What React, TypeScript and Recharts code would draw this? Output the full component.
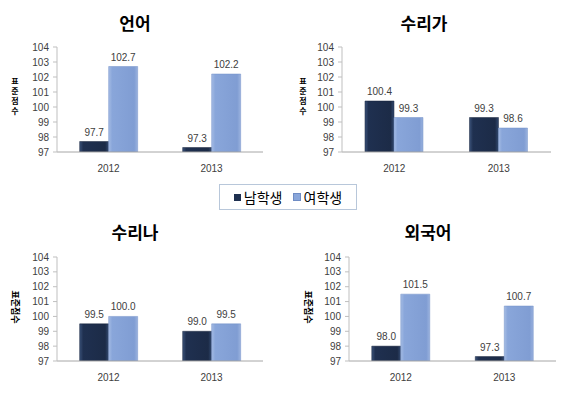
import { Bar, BarChart, LabelList, XAxis, YAxis } from 'recharts'

const years = ['2012', '2013']
const yTicks = [97, 98, 99, 100, 101, 102, 103, 104]

const languageMale = [97.7, 97.3]
const languageFemale = [102.7, 102.2]
const mathAMale = [100.4, 99.3]
const mathAFemale = [99.3, 98.6]
const mathBMale = [99.5, 99.0]
const mathBFemale = [100.0, 99.5]
const foreignMale = [98.0, 97.3]
const foreignFemale = [101.5, 100.7]

const yLabel = '표준점수'

const korean = '"Noto Sans CJK KR", "Noto Sans", sans-serif'
const latin = '"Liberation Sans", Arial, sans-serif'

type PanelProps = {
	id: string
	title: string
	male: number[]
	female: number[]
	left: number
	top: number
	width: number
	height: number
	margin: { top: number; right: number; bottom: number; left: number }
	yWidth: number
	titleX: number
	titleY: number
	labelX: number
	labelY: number
	upright: boolean
}

const Panel = ({
	id,
	title,
	male,
	female,
	left,
	top,
	width,
	height,
	margin,
	yWidth,
	titleX,
	titleY,
	labelX,
	labelY,
	upright,
}: PanelProps) => {
	const data = years.map((year, i) => ({ year, male: male[i], female: female[i] }))

	return (
		<div style={{ position: 'absolute', left, top, width, height }}>
			<div
				style={{
					position: 'absolute',
					left: titleX - 60,
					top: titleY - 12,
					width: 120,
					textAlign: 'center',
					fontFamily: korean,
					fontWeight: 'bold',
					fontSize: 17,
					lineHeight: '24px',
					color: '#000',
				}}
			>
				{title}
			</div>
			{upright ? (
				<div
					style={{
						position: 'absolute',
						left: labelX - 6,
						top: labelY - 20,
						width: 12,
						textAlign: 'center',
						fontFamily: korean,
						fontWeight: 'bold',
						fontSize: 8,
						lineHeight: '10px',
						color: '#000',
					}}
				>
					{yLabel.split('').map(ch => (
						<div key={ch} style={{ height: 10 }}>
							{ch}
						</div>
					))}
				</div>
			) : (
				<div
					style={{
						position: 'absolute',
						left: labelX - 20,
						top: labelY - 5,
						width: 40,
						textAlign: 'center',
						transform: 'rotate(90deg)',
						fontFamily: korean,
						fontWeight: 'bold',
						fontSize: 9,
						lineHeight: '10px',
						color: '#000',
					}}
				>
					{yLabel}
				</div>
			)}
			<BarChart
				width={width}
				height={height}
				data={data}
				margin={margin}
				barCategoryGap='22%'
				barGap={0}
				style={{ position: 'absolute', left: 0, top: 0 }}
			>
				<defs>
					<linearGradient id={`${id}-male`} x1='0' y1='0' x2='1' y2='0'>
						<stop offset='0%' stopColor='#3B5279' />
						<stop offset='12%' stopColor='#1F3050' />
						<stop offset='88%' stopColor='#1C2B47' />
						<stop offset='100%' stopColor='#334A70' />
					</linearGradient>
					<linearGradient id={`${id}-female`} x1='0' y1='0' x2='1' y2='0'>
						<stop offset='0%' stopColor='#A5BCE4' />
						<stop offset='12%' stopColor='#89A6DA' />
						<stop offset='88%' stopColor='#809DD3' />
						<stop offset='100%' stopColor='#9AB2DE' />
					</linearGradient>
				</defs>
				<XAxis
					dataKey='year'
					axisLine={{ stroke: '#A6A6A6' }}
					tickLine={false}
					tickSize={6}
					tickMargin={7}
					height={30}
					tick={{ fontSize: 10, fill: '#404040', fontFamily: latin }}
				/>
				<YAxis
					domain={[97, 104]}
					ticks={yTicks}
					allowDataOverflow
					width={yWidth}
					axisLine={{ stroke: '#BFBFBF' }}
					tickLine={{ stroke: '#BFBFBF' }}
					tickSize={4}
					tickMargin={4}
					interval={0}
					tick={{ fontSize: 10, fill: '#404040', fontFamily: latin }}
				/>
				<Bar dataKey='male' fill={`url(#${id}-male)`} stroke='#16223A' strokeWidth={0.5} isAnimationActive={false}>
					<LabelList
						dataKey='male'
						position='top'
						offset={6}
						formatter={(v: number) => v.toFixed(1)}
						style={{ fontSize: 10, fill: '#404040', fontFamily: latin }}
					/>
				</Bar>
				<Bar dataKey='female' fill={`url(#${id}-female)`} stroke='#7290C8' strokeWidth={0.5} isAnimationActive={false}>
					<LabelList
						dataKey='female'
						position='top'
						offset={6}
						formatter={(v: number) => v.toFixed(1)}
						style={{ fontSize: 10, fill: '#404040', fontFamily: latin }}
					/>
				</Bar>
			</BarChart>
		</div>
	)
}

const LegendBox = () => (
	<div
		style={{
			position: 'absolute',
			left: 219,
			top: 184,
			width: 136,
			height: 24,
			border: '1px solid #B8C7DA',
			background: '#fff',
			fontFamily: korean,
			fontSize: 14,
			color: '#000',
			display: 'flex',
			alignItems: 'center',
			justifyContent: 'center',
			gap: 10,
		}}
	>
		<span style={{ display: 'flex', alignItems: 'center' }}>
			<span style={{ width: 7, height: 7, background: '#1F3050', marginRight: 3, display: 'inline-block' }} />
			남학생
		</span>
		<span style={{ display: 'flex', alignItems: 'center' }}>
			<span
				style={{
					width: 6,
					height: 6,
					background: '#89A6DA',
					border: '1px solid #6F8CC4',
					marginRight: 3,
					display: 'inline-block',
				}}
			/>
			여학생
		</span>
	</div>
)

export default function App() {
	return (
		<div style={{ position: 'absolute', left: 0, top: 0, width: 567, height: 396, background: '#fff', overflow: 'hidden' }}>
			<Panel
				id='lang'
				title='언어'
				male={languageMale}
				female={languageFemale}
				left={0}
				top={0}
				width={283}
				height={190}
				margin={{ top: 47, right: 20, bottom: 8, left: 0 }}
				yWidth={57}
				titleX={135}
				titleY={23}
				labelX={15}
				labelY={96}
				upright
			/>
			<Panel
				id='matha'
				title='수리가'
				male={mathAMale}
				female={mathAFemale}
				left={283}
				top={0}
				width={284}
				height={190}
				margin={{ top: 47, right: 16, bottom: 8, left: 0 }}
				yWidth={59}
				titleX={141}
				titleY={23}
				labelX={20}
				labelY={96}
				upright
			/>
			<Panel
				id='mathb'
				title='수리나'
				male={mathBMale}
				female={mathBFemale}
				left={0}
				top={200}
				width={283}
				height={196}
				margin={{ top: 57, right: 20, bottom: 5, left: 0 }}
				yWidth={57}
				titleX={135}
				titleY={32}
				labelX={15}
				labelY={107}
				upright={false}
			/>
			<Panel
				id='foreign'
				title='외국어'
				male={foreignMale}
				female={foreignFemale}
				left={283}
				top={200}
				width={284}
				height={196}
				margin={{ top: 57, right: 11, bottom: 5, left: 0 }}
				yWidth={66}
				titleX={145}
				titleY={32}
				labelX={25}
				labelY={107}
				upright={false}
			/>
			<LegendBox />
		</div>
	)
}
